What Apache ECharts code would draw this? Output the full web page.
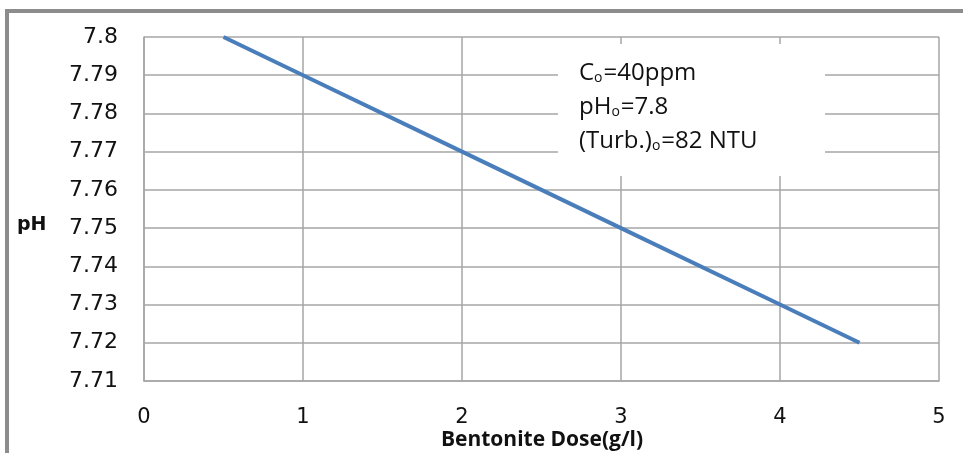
<!DOCTYPE html>
<html>
<head>
<meta charset="utf-8">
<script src="https://cdn.jsdelivr.net/npm/echarts@6/dist/echarts.min.js"></script>
<style>html,body{margin:0;padding:0;background:#fff;}#c{width:963px;height:453px;}</style>
</head>
<body>
<div id="c"></div>
<script>
const doses = [0.5, 1, 2, 3, 4, 4.5];
const phValues = [7.8, 7.79, 7.77, 7.75, 7.73, 7.72];
const xTicks = [0, 1, 2, 3, 4, 5];
const yTicks = [7.71, 7.72, 7.73, 7.74, 7.75, 7.76, 7.77, 7.78, 7.79, 7.8];
const xTitle = 'Bentonite Dose(g/l)';
const yTitle = 'pH';

const chart = echarts.init(document.getElementById('c'));
const gridColor = '#a6a6a6';
const calibri = '"Open Sans", "Noto Sans", sans-serif';
chart.setOption({
  animation: false,
  backgroundColor: '#fff',
  grid: { left: 144, right: 24, top: 37, bottom: 72, containLabel: false },
  xAxis: {
    type: 'value', min: xTicks[0], max: xTicks[xTicks.length - 1], interval: 1,
    axisLine: { show: true, lineStyle: { color: gridColor, width: 1.5 } },
    axisTick: { show: false },
    splitLine: { show: true, lineStyle: { color: gridColor, width: 1.5 } },
    axisLabel: { color: '#111', fontSize: 21, fontFamily: '"DejaVu Sans", sans-serif', margin: 26 }
  },
  yAxis: {
    type: 'value', min: yTicks[0], max: yTicks[yTicks.length - 1], interval: 0.01,
    axisLine: { show: true, lineStyle: { color: gridColor, width: 1.5 } },
    axisTick: { show: false },
    splitLine: { show: true, lineStyle: { color: gridColor, width: 1.5 } },
    axisLabel: { color: '#111', fontSize: 22, fontFamily: '"DejaVu Sans", sans-serif', margin: 26,
      formatter: v => String(+v.toFixed(2)) }
  },
  series: [{
    type: 'line',
    data: doses.map((d, i) => [d, phValues[i]]),
    showSymbol: false,
    lineStyle: { color: '#4a7ebb', width: 4 },
    itemStyle: { color: '#4a7ebb' }
  }],
  graphic: [
    { type: 'rect', shape: { x: 5, y: 9, width: 958, height: 4 }, style: { fill: '#8c8c8c' }, z: 100 },
    { type: 'rect', shape: { x: 5, y: 9, width: 4, height: 444 }, style: { fill: '#8c8c8c' }, z: 100 },
    { type: 'rect', shape: { x: 558, y: 44, width: 267, height: 132 }, style: { fill: '#fff' }, z: 100 },
    { type: 'text', x: 579, y: 51, z: 101, style: {
        text: '{n|C}{s|o}{n|=40ppm}\n{n|pH}{s|o}{n|=7.8}\n{n|(Turb.)}{s|o}{n|=82 NTU}',
        rich: {
          n: { fontSize: 24, fontFamily: calibri, fill: '#111', lineHeight: 34, verticalAlign: 'bottom' },
          s: { fontSize: 14, fontFamily: calibri, fill: '#111', lineHeight: 22, verticalAlign: 'bottom', padding: [0, 1, 0, 0] }
        }
      } },
    { type: 'text', x: 17, y: 216, z: 101, style: { text: yTitle, font: 'bold 19px "DejaVu Sans", sans-serif', fill: '#111' } },
    { type: 'text', x: 542, y: 440, z: 101, style: { text: xTitle, font: 'bold 21px "Open Sans", "Noto Sans", sans-serif', fill: '#111', align: 'center', verticalAlign: 'middle' } }
  ]
});
</script>
</body>
</html>
